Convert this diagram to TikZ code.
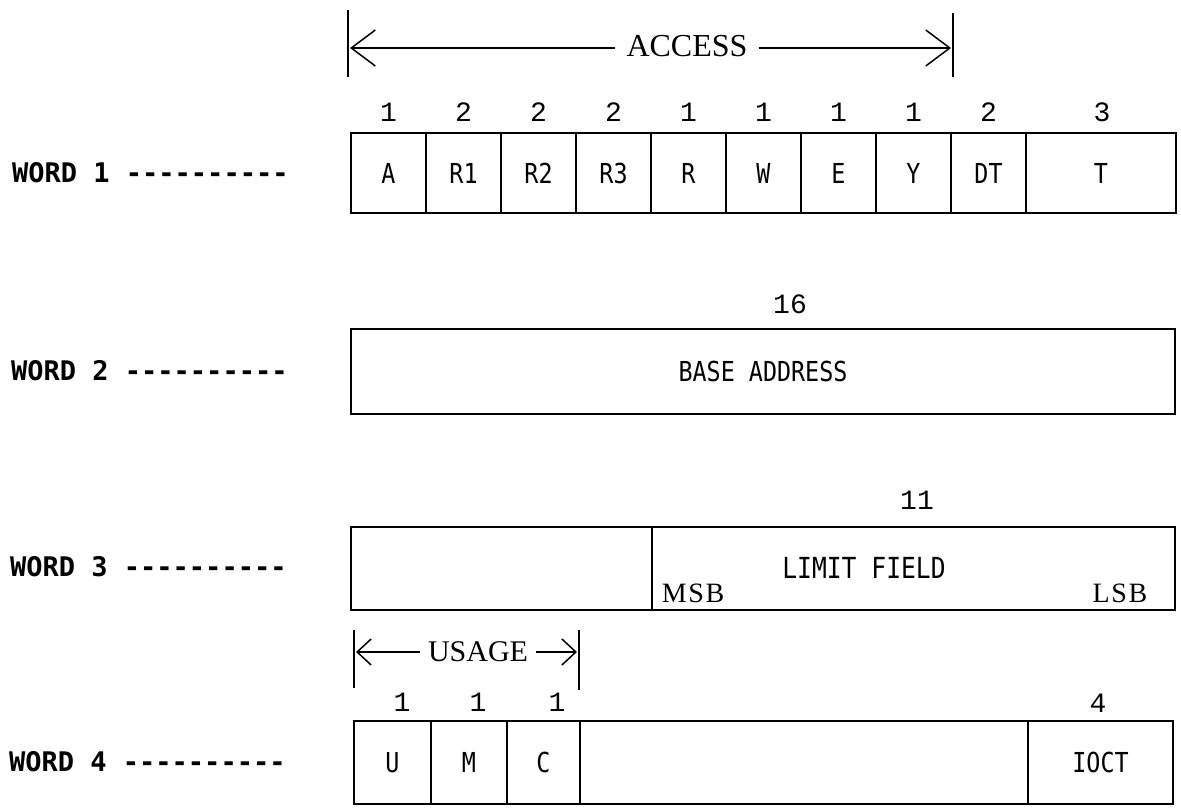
\documentclass[tikz,border=0pt]{standalone}
\usepackage{fontspec}
\usetikzlibrary{arrows.meta}
\newfontfamily\lblfont[FakeStretch=0.85]{DejaVu Sans Mono}
\newfontfamily\wfont{DejaVu Sans Mono}
\newfontfamily\serfont{Liberation Serif}
\newfontfamily\sigfont[LetterSpace=6]{Liberation Serif}
\newfontfamily\twfont{Liberation Mono}
\begin{document}
\begin{tikzpicture}[x=1pt,y=-1pt,
  cell/.style={draw, line width=1.5pt, inner sep=0pt, font=\lblfont\fontsize{27.5}{30}\selectfont},
  num/.style={font=\twfont\fontsize{28}{30}\selectfont, inner sep=0pt},
  wlabel/.style={anchor=west, inner sep=0pt, font=\wfont\bfseries\fontsize{27}{30}\selectfont},
  sertext/.style={font=\serfont\fontsize{32}{36}\selectfont},
  sigbit/.style={font=\sigfont\fontsize{28}{32}\selectfont, inner sep=0pt},
  bar/.style={line width=1.5pt},
  bigarr/.style={line width=1.5pt, -{Straight Barb[length=24pt,width=36pt]}},
  smallarr/.style={line width=1.5pt, -{Straight Barb[length=14pt,width=26pt]}}
]
\useasboundingbox (0,0) rectangle (1181,809);

% ---------- WORD 1 ----------
\node[wlabel] (w1) at (12,173) {WORD 1 ----------};
\node[cell, minimum width=75pt, minimum height=80pt] (A)  at (388.5,173) {A};
\node[cell, minimum width=75pt, minimum height=80pt] (R1) at (463.5,173) {R1};
\node[cell, minimum width=75pt, minimum height=80pt] (R2) at (538.5,173) {R2};
\node[cell, minimum width=75pt, minimum height=80pt] (R3) at (613.5,173) {R3};
\node[cell, minimum width=75pt, minimum height=80pt] (R)  at (688.5,173) {R};
\node[cell, minimum width=75pt, minimum height=80pt] (W)  at (763.5,173) {W};
\node[cell, minimum width=75pt, minimum height=80pt] (E)  at (838.5,173) {E};
\node[cell, minimum width=75pt, minimum height=80pt] (Y)  at (913.5,173) {Y};
\node[cell, minimum width=75pt, minimum height=80pt] (DT) at (988.5,173) {DT};
\node[cell, minimum width=150pt, minimum height=80pt] (T) at (1101,173) {T};

\node[num] (nA)  at (388.5,112) {1};
\node[num] (nR1) at (463.5,112) {2};
\node[num] (nR2) at (538.5,112) {2};
\node[num] (nR3) at (613.5,112) {2};
\node[num] (nR)  at (688.5,112) {1};
\node[num] (nW)  at (763.5,112) {1};
\node[num] (nE)  at (838.5,112) {1};
\node[num] (nY)  at (913.5,112) {1};
\node[num] (nDT) at (988.5,112) {2};
\node[num] (nT)  at (1102,112) {3};

% ACCESS span
\coordinate (aL1) at (348,10);  \coordinate (aL2) at (348,77);
\coordinate (aR1) at (953,13);  \coordinate (aR2) at (953,77);
\draw[bar] (aL1) -- (aL2);
\draw[bar] (aR1) -- (aR2);
\coordinate (aLt) at (350,48);
\coordinate (aRt) at (951,48);
\node[sertext, inner sep=11pt] (acc) at (687,46) {ACCESS};
\draw[bigarr] (acc.west |- aLt) -- (aLt);
\draw[bigarr] (acc.east |- aRt) -- (aRt);

% ---------- WORD 2 ----------
\node[wlabel] (w2) at (11,371) {WORD 2 ----------};
\node[cell, minimum width=824pt, minimum height=85pt] (base) at (763,371.5) {BASE ADDRESS};
\node[num] (n16) at (790,304) {16};

% ---------- WORD 3 ----------
\node[wlabel] (w3) at (10,567) {WORD 3 ----------};
\node[cell, minimum width=301pt, minimum height=83pt] (w3a) at (501.5,568.5) {};
\node[cell, minimum width=523pt, minimum height=83pt] (lim) at (913.5,568.5) {};
\node[inner sep=0pt, font=\lblfont\fontsize{29}{30}\selectfont] (limt) at (864,568) {LIMIT FIELD};
\node[sigbit] (msb) at (693,593) {MSB};
\node[sigbit] (lsb) at (1120,593) {LSB};
\node[num] (n11) at (917,500) {11};

% ---------- WORD 4 ----------
\node[wlabel] (w4) at (9,762) {WORD 4 ----------};
\node[cell, minimum width=77pt, minimum height=83pt] (U) at (392.5,762.5) {U};
\node[cell, minimum width=76pt, minimum height=83pt] (M) at (469,762.5) {M};
\node[cell, minimum width=73pt, minimum height=83pt] (C) at (543.5,762.5) {C};
\node[cell, minimum width=448pt, minimum height=83pt] (blank) at (804,762.5) {};
\node[cell, minimum width=145pt, minimum height=83pt] (ioct) at (1100.5,762.5) {IOCT};

\node[num] (nU) at (402,702) {1};
\node[num] (nM) at (478,702) {1};
\node[num] (nC) at (557,702) {1};
\node[num] (n4) at (1098,703) {4};

% USAGE span
\coordinate (uL1) at (354,630); \coordinate (uL2) at (354,688);
\coordinate (uR1) at (579,630); \coordinate (uR2) at (579,690);
\draw[bar] (uL1) -- (uL2);
\draw[bar] (uR1) -- (uR2);
\coordinate (uLt) at (356,652);
\coordinate (uRt) at (577,652);
\node[font=\serfont\fontsize{30}{34}\selectfont, inner sep=8pt] (usage) at (478,652) {USAGE};
\draw[smallarr] (usage.west |- uLt) -- (uLt);
\draw[smallarr] (usage.east |- uRt) -- (uRt);
\end{tikzpicture}
\end{document}
